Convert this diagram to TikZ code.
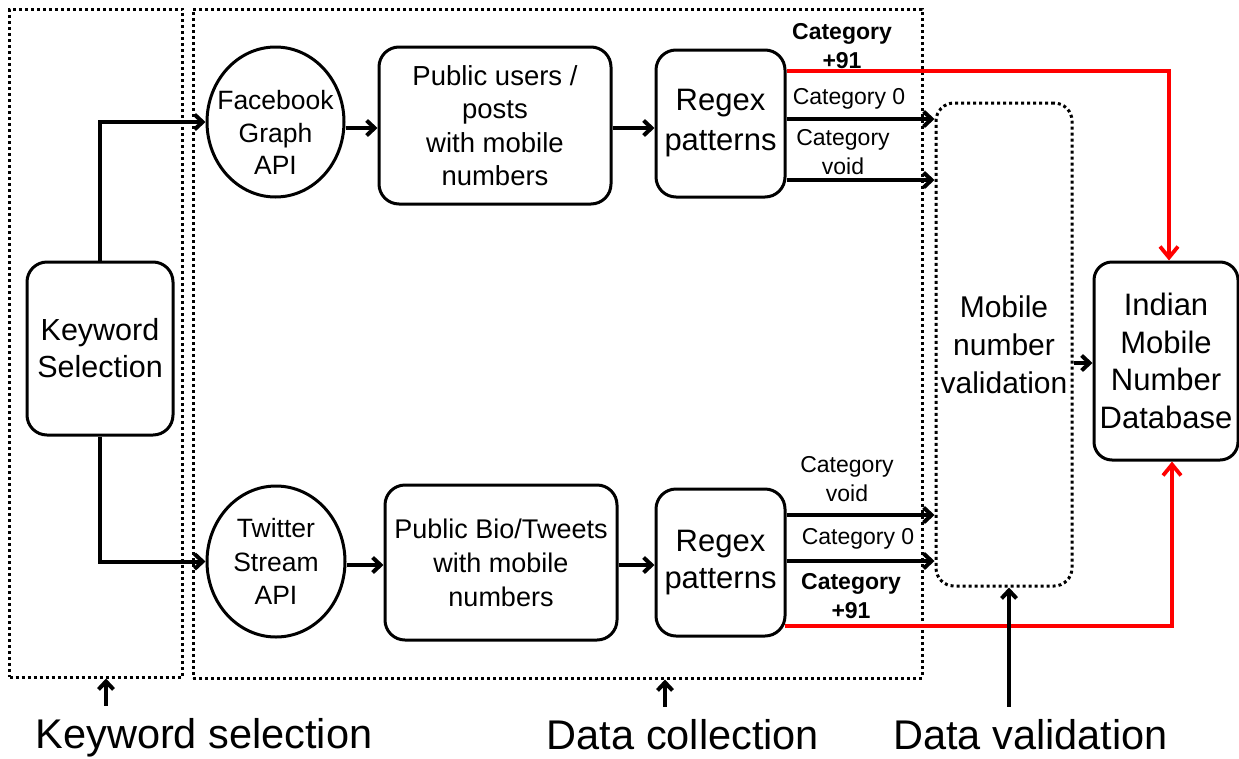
\documentclass[tikz,border=0pt]{standalone}
\usepackage{fontspec}
\setmainfont{Liberation Sans}
\usetikzlibrary{arrows.meta,shapes.geometric,calc}
\begin{document}
\begin{tikzpicture}[x=1pt,y=-1pt,
  box/.style={draw, line width=3pt, rounded corners=20pt, align=center, inner sep=0pt},
  ell/.style={draw, ellipse, line width=3pt, inner sep=0pt, align=center},
  txt/.style={align=center, inner sep=0pt},
  dots/.style={line width=3pt, dash pattern=on 3pt off 3pt},
  arr/.style={line width=4pt, -{Straight Barb[length=8pt,width=15pt]}},
  redarr/.style={draw=red, line width=3.8pt, -{Straight Barb[length=11pt,width=18pt]}},
  fmain/.style={font=\fontsize{30.5}{37}\selectfont},
  fmid/.style={font=\fontsize{27.5}{33.5}\selectfont},
  fsmall/.style={font=\fontsize{23}{29}\selectfont},
  fbold/.style={font=\fontsize{23}{29}\selectfont\bfseries},
  flabel/.style={font=\fontsize{41.5}{48}\selectfont, inner sep=12pt}
]
\useasboundingbox[fill=white] (0,0) rectangle (1239,758);

% region boxes
\node[draw, dots, minimum width=173pt, minimum height=668pt, inner sep=0pt] (kwreg) at (96,343) {};
\node[draw, dots, minimum width=729pt, minimum height=669pt, inner sep=0pt] (dcreg) at (557.5,343.5) {};

% main nodes
\node[box, fmain, minimum width=146pt, minimum height=173pt] (kw) at (100,348.5) {Keyword\\Selection};
\node[ell, minimum width=137pt, minimum height=150pt] (fb) at (275.5,122) {};
\node[txt, font=\fontsize{26.5}{32.5}\selectfont] (fbt) at (275.5,132.5) {Facebook\\Graph\\API};
\node[ell, font=\fontsize{26.5}{33.5}\selectfont, minimum width=138pt, minimum height=151pt] (tw) at (276,561.5) {Twitter\\Stream\\API};
\node[box, fmid, minimum width=232pt, minimum height=157pt] (pub) at (495,125.5) {Public users /\\posts\\with mobile\\numbers};
\node[box, font=\fontsize{27}{34}\selectfont, minimum width=232pt, minimum height=155pt] (bio) at (501,562.5) {Public Bio/Tweets\\with mobile\\numbers};
\node[box, font=\fontsize{31}{40}\selectfont, minimum width=129pt, minimum height=147pt] (rx1) at (720.5,123.5) {Regex\\patterns};
\node[box, font=\fontsize{31}{37}\selectfont, minimum width=129pt, minimum height=147pt] (rx2) at (720.5,562.5) {Regex\\patterns};
\node[draw, dots, rounded corners=18pt, align=center, inner sep=0pt, font=\fontsize{30}{38}\selectfont, minimum width=136pt, minimum height=483pt] (mv) at (1004,344.5) {Mobile\\number\\validation};
\node[box, rounded corners=18pt, font=\fontsize{31}{37.5}\selectfont, minimum width=144pt, minimum height=198pt] (db) at (1166,361) {Indian\\Mobile\\Number\\Database};

% category labels
\node[txt, fbold] (c91a) at (842,46.5) {Category\\+91};
\node[txt, fsmall] (c0a) at (849,99) {Category 0};
\node[txt, fsmall] (cva) at (843,152.5) {Category\\void};
\node[txt, fsmall] (cvb) at (847,479) {Category\\void};
\node[txt, fsmall] (c0b) at (858,539) {Category 0};
\node[txt, fbold] (c91b) at (851,596) {Category\\+91};

% bottom labels
\node[flabel, anchor=base] (lkw) at (204,748) {Keyword selection};
\node[flabel, anchor=base] (ldc) at (683,749) {Data collection};
\node[flabel, anchor=base] (ldv) at (1030.5,749) {Data validation};

% connectors
\draw[arr] (kw.north) |- (fb.west);
\draw[arr] (kw.south) |- (tw.west);
\draw[arr] (fb.east |- 0,128) -- (pub.west |- 0,128);
\draw[arr] (pub.east |- 0,128) -- (rx1.west |- 0,128);
\draw[arr] (tw.east |- 0,565) -- (bio.west |- 0,565);
\draw[arr] (bio.east |- 0,565) -- (rx2.west |- 0,565);

\draw[arr] (rx1.east |- 0,119) -- (mv.west |- 0,119);
\draw[arr] (rx1.east |- 0,180) -- (mv.west |- 0,180);
\draw[arr] (rx2.east |- 0,515) -- (mv.west |- 0,515);
\draw[arr] (rx2.east |- 0,561) -- (mv.west |- 0,561);

\draw[redarr] (rx1.east |- 0,71) -| ([xshift=3pt]db.north);
\draw[redarr] ([xshift=-2pt]rx2.east |- 0,626) -| ([xshift=6pt]db.south);

\draw[arr] (mv.east |- 0,363) -- (db.west |- 0,363);

\draw[arr] (lkw.north -| 106,0) -- (106,0 |- kwreg.south);
\draw[arr] (ldc.north -| 665,0) -- (665,0 |- dcreg.south);
\draw[arr] (ldv.north -| 1009,0) -- (1009,0 |- mv.south);
\end{tikzpicture}
\end{document}
